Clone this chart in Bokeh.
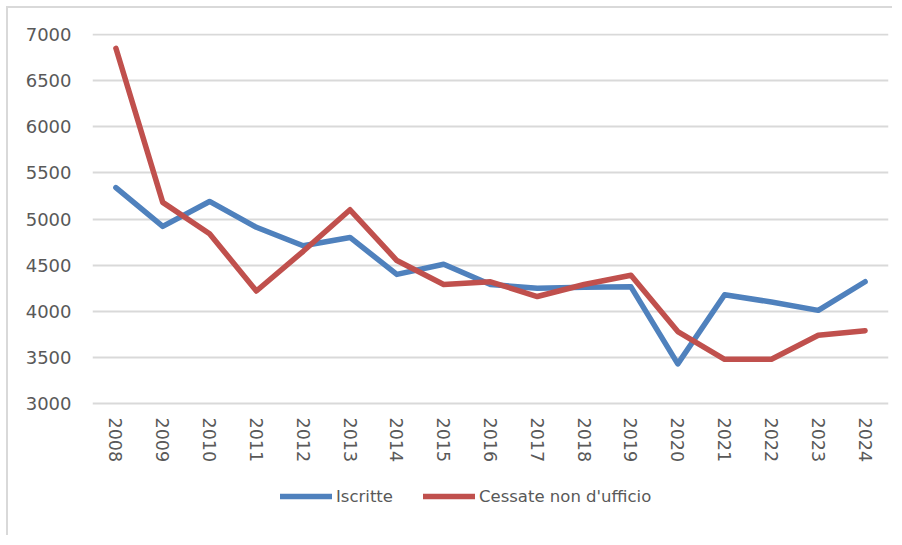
import math
from bokeh.plotting import figure
from bokeh.models import FactorRange, Range1d, FixedTicker, Legend, LegendItem, ColumnDataSource
from bokeh.core.properties import value
from bokeh.embed import file_html
from bokeh.resources import INLINE

years = [str(y) for y in range(2008, 2025)]
iscritte = [5340, 4920, 5190, 4910, 4710, 4800, 4400, 4510, 4290, 4250, 4260, 4265, 3430, 4180, 4100, 4010, 4320]
cessate = [6850, 5180, 4840, 4220, 4650, 5100, 4550, 4290, 4320, 4160, 4290, 4390, 3780, 3480, 3480, 3740, 3790]
y_ticks = [3000, 3500, 4000, 4500, 5000, 5500, 6000, 6500, 7000]

W, H = 886, 529
top_px, axis_bottom_px = 25, 396          # rows (inside the figure) of the top of the value range and the 3000 line
y_hi, y_lo = 7010, 2990
units_per_px = (y_hi - y_lo) / (axis_bottom_px - top_px)
y_start = y_lo - (H - axis_bottom_px) * units_per_px   # frame reaches the bottom so the legend fits inside

src = ColumnDataSource(dict(x=years, a=iscritte, b=cessate, base=[y_ticks[0]] * len(years)))

p = figure(width=W, height=H, x_range=FactorRange(*years), y_range=Range1d(y_start, y_hi),
           output_backend="svg", toolbar_location=None,
           min_border_left=84, min_border_top=top_px, min_border_right=6, min_border_bottom=0)
p.outline_line_color = None
p.styles = {"border-left": "2px solid #d9d9d9", "border-top": "2px solid #d9d9d9",
            "margin-left": "6px", "margin-top": "6px"}

r1 = p.line("x", "a", source=src, line_color="#4F81BD", line_width=5.5, line_join="round", line_cap="round")
r2 = p.line("x", "b", source=src, line_color="#C0504D", line_width=5.5, line_join="round", line_cap="round")

# category labels under the value range, rotated like the original
p.text(x="x", y="base", text="x", source=src, angle=-math.pi / 2, y_offset=14,
       text_align="left", text_baseline="middle", text_font=value("DejaVu Sans"),
       text_font_size="17.5px", text_color="#595959")

p.xaxis.visible = False
p.xgrid.grid_line_color = None
p.ygrid.grid_line_color = "#d9d9d9"
p.ygrid.grid_line_width = 2
p.yaxis.ticker = FixedTicker(ticks=y_ticks)
p.yaxis.axis_line_color = None
p.yaxis.major_tick_line_color = None
p.yaxis.minor_tick_line_color = None
p.yaxis.major_label_text_font = "DejaVu Sans"
p.yaxis.major_label_text_color = "#595959"
p.yaxis.major_label_text_font_size = "18px"
p.yaxis.major_label_standoff = 15

legend = Legend(items=[LegendItem(label="Iscritte", renderers=[r1]),
                       LegendItem(label="Cessate non d'ufficio", renderers=[r2])],
                orientation="horizontal", location=(188, 31),
                border_line_color=None, background_fill_alpha=0,
                label_text_font="DejaVu Sans", label_text_font_size="16.5px",
                label_text_color="#595959", glyph_width=52, glyph_height=20,
                label_standoff=4, spacing=30, padding=0, margin=0)
p.add_layout(legend, "center")

open("out.html", "w").write(file_html(p, INLINE))
